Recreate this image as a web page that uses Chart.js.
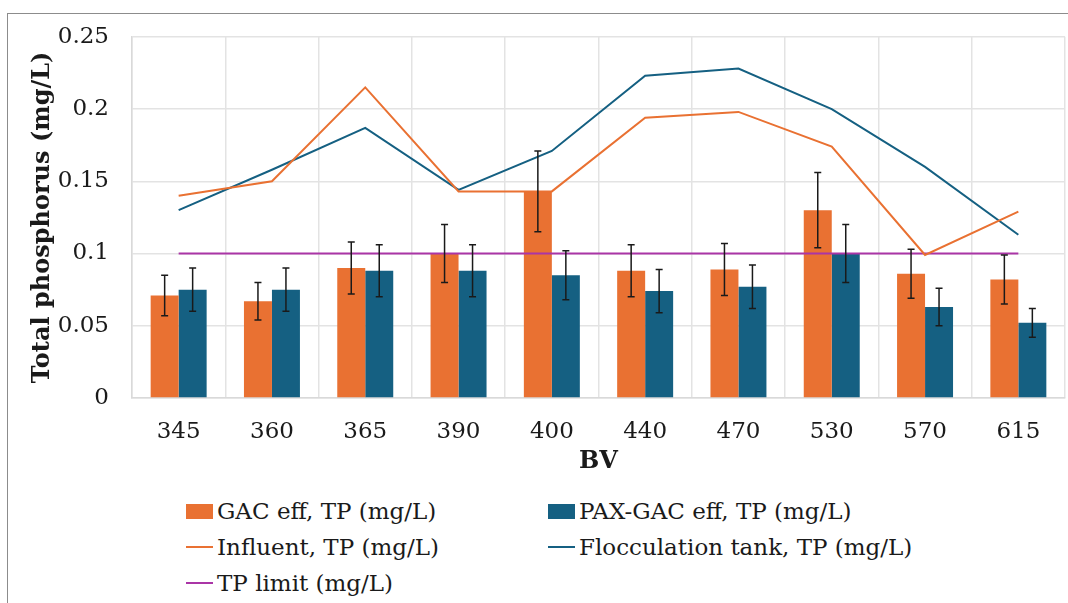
<!DOCTYPE html>
<html>
<head>
<meta charset="utf-8">
<script src="https://cdn.jsdelivr.net/npm/chart.js"></script>
<style>
  body { margin: 0; background: #fff; }
  #frame { position: absolute; left: 7px; top: 13px; width: 1100px; height: 700px; border: 1px solid #8c8c8c; }
  #wrap { position: absolute; left: 0; top: 0; width: 1068px; height: 480px; }
  #legend { position: absolute; left: 186px; top: 496px; font-family: "DejaVu Serif", serif; font-size: 23px; color: #1a1a1a; }
  .item { position: absolute; display: flex; align-items: center; white-space: nowrap; height: 30px; }
  .sw { width: 27px; margin-right: 4px; }
</style>
</head>
<body>
<div id="frame"></div>
<div id="wrap"><canvas id="tp-chart"></canvas></div>
<div id="legend"></div>
<script>
  const bv = ["345", "360", "365", "390", "400", "440", "470", "530", "570", "615"];
  const gacEff = [0.071, 0.067, 0.090, 0.100, 0.143, 0.088, 0.089, 0.130, 0.086, 0.082];
  const gacErr = [0.014, 0.013, 0.018, 0.020, 0.028, 0.018, 0.018, 0.026, 0.017, 0.017];
  const paxEff = [0.075, 0.075, 0.088, 0.088, 0.085, 0.074, 0.077, 0.100, 0.063, 0.052];
  const paxErr = [0.015, 0.015, 0.018, 0.018, 0.017, 0.015, 0.015, 0.020, 0.013, 0.010];
  const influent = [0.140, 0.150, 0.215, 0.143, 0.143, 0.194, 0.198, 0.174, 0.099, 0.129];
  const flocc = [0.130, 0.158, 0.187, 0.144, 0.171, 0.223, 0.228, 0.200, 0.160, 0.113];
  const tpLimit = [0.1, 0.1, 0.1, 0.1, 0.1, 0.1, 0.1, 0.1, 0.1, 0.1];

  const orange = "#E97132";
  const blue = "#156082";
  const purple = "#AA35A6";
  const serif = "'DejaVu Serif', serif";

  // error bars drawn from each bar's value +/- its error
  const errorBars = {
    id: "errorBars",
    afterDatasetsDraw(chart) {
      const ctx = chart.ctx;
      const y = chart.scales.y;
      chart.data.datasets.forEach((ds, i) => {
        if (!ds.errors) return;
        chart.getDatasetMeta(i).data.forEach((bar, j) => {
          const top = y.getPixelForValue(ds.data[j] + ds.errors[j]);
          const bot = y.getPixelForValue(ds.data[j] - ds.errors[j]);
          ctx.save();
          ctx.strokeStyle = "#1a1a1a";
          ctx.lineWidth = 1.5;
          ctx.beginPath();
          ctx.moveTo(bar.x, top); ctx.lineTo(bar.x, bot);
          ctx.moveTo(bar.x - 3.5, top); ctx.lineTo(bar.x + 3.5, top);
          ctx.moveTo(bar.x - 3.5, bot); ctx.lineTo(bar.x + 3.5, bot);
          ctx.stroke();
          ctx.restore();
        });
      });
    },
  };

  const chart = new Chart(document.getElementById("tp-chart"), {
    type: "bar",
    data: {
      labels: bv,
      datasets: [
        { label: "GAC eff, TP (mg/L)", data: gacEff, errors: gacErr, backgroundColor: orange, order: 2 },
        { label: "PAX-GAC eff, TP (mg/L)", data: paxEff, errors: paxErr, backgroundColor: blue, order: 2 },
        { type: "line", label: "Influent, TP (mg/L)", data: influent, borderColor: orange, borderWidth: 2, pointRadius: 0, order: 1 },
        { type: "line", label: "Flocculation tank, TP (mg/L)", data: flocc, borderColor: blue, borderWidth: 2, pointRadius: 0, order: 1 },
        { type: "line", label: "TP limit (mg/L)", data: tpLimit, borderColor: purple, borderWidth: 2, pointRadius: 0, order: 1 },
      ],
    },
    options: {
      responsive: true,
      maintainAspectRatio: false,
      animation: false,
      categoryPercentage: 0.6,
      barPercentage: 1,
      layout: { padding: { left: 0, top: 32, right: 3, bottom: 0 } },
      plugins: { legend: { display: false }, tooltip: { enabled: false } },
      scales: {
        x: {
          grid: { color: "#e3e3e3", lineWidth: 1.5, drawTicks: false },
          border: { color: "#d9d9d9", width: 1.5 },
          ticks: { color: "#1a1a1a", padding: 20, font: { family: serif, size: 23 } },
          title: { display: true, text: "BV", color: "#1a1a1a", padding: { top: 0, bottom: 4 }, font: { family: serif, size: 24, weight: "bold" } },
          afterFit(scale) { scale.height = 82; },
        },
        y: {
          min: 0,
          max: 0.25,
          ticks: { stepSize: 0.05, color: "#1a1a1a", padding: 23, font: { family: serif, size: 23 },
            callback: (v) => String(+v.toFixed(2)) },
          grid: { color: "#e3e3e3", lineWidth: 1.5, drawTicks: false },
          border: { color: "#d9d9d9", width: 1.5 },
          title: { display: true, text: "Total phosphorus (mg/L)", color: "#1a1a1a", padding: { top: 28, bottom: 0 }, font: { family: serif, size: 24, weight: "bold" } },
          afterFit(scale) { scale.width = 132; },
        },
      },
    },
    plugins: [errorBars],
  });

  // two-column legend like the original
  const spots = [[0, 0], [362, 0], [0, 36], [362, 36], [0, 72]];
  const legend = document.getElementById("legend");
  chart.data.datasets.forEach((ds, i) => {
    const item = document.createElement("div");
    item.className = "item";
    item.style.left = spots[i][0] + "px";
    item.style.top = spots[i][1] + "px";
    const sw = document.createElement("span");
    sw.className = "sw";
    if (ds.type === "line") {
      sw.style.height = "2px";
      sw.style.background = ds.borderColor;
    } else {
      sw.style.height = "15px";
      sw.style.background = ds.backgroundColor;
    }
    item.appendChild(sw);
    item.appendChild(document.createTextNode(ds.label));
    legend.appendChild(item);
  });
</script>
</body>
</html>
